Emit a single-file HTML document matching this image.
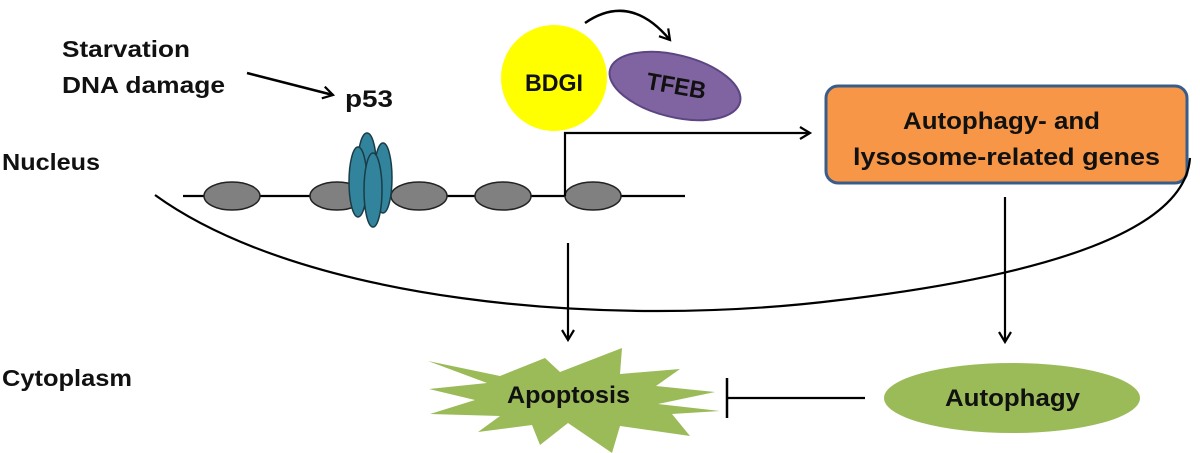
<!DOCTYPE html>
<html><head><meta charset="utf-8"><style>html,body{margin:0;padding:0;background:#fff}svg{display:block}text{font-family:"Liberation Sans",sans-serif;font-weight:bold;fill:#111}</style></head>
<body>
<svg width="1200" height="453" viewBox="0 0 1200 453" xmlns="http://www.w3.org/2000/svg">
<defs>
<marker id="ah" markerWidth="14" markerHeight="14" refX="11" refY="7" orient="auto" markerUnits="userSpaceOnUse">
<path d="M1,1 L11,7 L1,13" fill="none" stroke="#000" stroke-width="2.2"/>
</marker>
</defs>
<text x="62" y="57" font-size="23" textLength="128" lengthAdjust="spacingAndGlyphs">Starvation</text>
<text x="62" y="93" font-size="23" textLength="163" lengthAdjust="spacingAndGlyphs">DNA damage</text>
<line x1="247" y1="73" x2="333" y2="95" stroke="#000" stroke-width="2.5" marker-end="url(#ah)"/>
<text x="345" y="107" font-size="24" textLength="48" lengthAdjust="spacingAndGlyphs">p53</text>
<text x="2" y="170" font-size="23" textLength="98" lengthAdjust="spacingAndGlyphs">Nucleus</text>
<text x="2" y="386" font-size="23" textLength="130" lengthAdjust="spacingAndGlyphs">Cytoplasm</text>

<path d="M585,23 Q630,-8 670,40" fill="none" stroke="#000" stroke-width="2.5" marker-end="url(#ah)"/>
<circle cx="554" cy="78" r="53" fill="#ffff00"/>
<text x="525" y="91" font-size="24" textLength="58" lengthAdjust="spacingAndGlyphs">BDGI</text>
<ellipse cx="675" cy="86" rx="67" ry="31" transform="rotate(14 675 86)" fill="#8064a2" stroke="#5c4682" stroke-width="2"/>
<text x="646" y="94" font-size="24" textLength="60" lengthAdjust="spacingAndGlyphs" transform="rotate(10 676 88)">TFEB</text>

<line x1="183" y1="196" x2="685" y2="196" stroke="#000" stroke-width="2.2"/>
<g fill="#808080" stroke="#222" stroke-width="1.5">
<ellipse cx="232" cy="196" rx="28" ry="14"/>
<ellipse cx="337" cy="196" rx="27" ry="14"/>
<ellipse cx="419" cy="196" rx="28" ry="14"/>
<ellipse cx="503" cy="196" rx="28" ry="14"/>
<ellipse cx="593" cy="196" rx="28" ry="14"/>
</g>
<g fill="#31849b" stroke="#1a3c47" stroke-width="1.5">
<ellipse cx="367" cy="163" rx="9" ry="30"/>
<ellipse cx="383" cy="178" rx="9" ry="35"/>
<ellipse cx="358" cy="182" rx="9" ry="35"/>
<ellipse cx="373" cy="190" rx="9" ry="37"/>
</g>
<path d="M565,196 L565,133 L810,133" fill="none" stroke="#000" stroke-width="2.2" marker-end="url(#ah)"/>
<rect x="826" y="86" width="361" height="97" rx="12" fill="#f79646" stroke="#385d8a" stroke-width="3"/>
<text x="903" y="129" font-size="24" textLength="197" lengthAdjust="spacingAndGlyphs">Autophagy- and</text>
<text x="853" y="165" font-size="24" textLength="307" lengthAdjust="spacingAndGlyphs">lysosome-related genes</text>

<path d="M155,195 C300,300 600,330 840,300 C1050,275 1185,230 1190,158" fill="none" stroke="#000" stroke-width="2.2"/>
<line x1="568" y1="243" x2="568" y2="340" stroke="#000" stroke-width="2.2" marker-end="url(#ah)"/>
<line x1="1005" y1="197" x2="1005" y2="342" stroke="#000" stroke-width="2.2" marker-end="url(#ah)"/>

<polygon points="428,361 500,376 545,358 560,372 622,348 620,374 680,369 656,386 715,392 658,404 720,411 672,414 690,436 620,426 612,453 568,423 540,445 532,425 478,432 500,416 430,414 475,400 429,389 487,383" fill="#9bbb59"/>
<text x="507" y="403" font-size="24" textLength="123" lengthAdjust="spacingAndGlyphs">Apoptosis</text>
<line x1="865" y1="398" x2="727" y2="398" stroke="#000" stroke-width="2.2"/>
<line x1="727" y1="378" x2="727" y2="418" stroke="#000" stroke-width="2.5"/>
<ellipse cx="1012" cy="398" rx="128" ry="35" fill="#9bbb59"/>
<text x="945" y="406" font-size="24" textLength="135" lengthAdjust="spacingAndGlyphs">Autophagy</text>
</svg>
</body></html>
